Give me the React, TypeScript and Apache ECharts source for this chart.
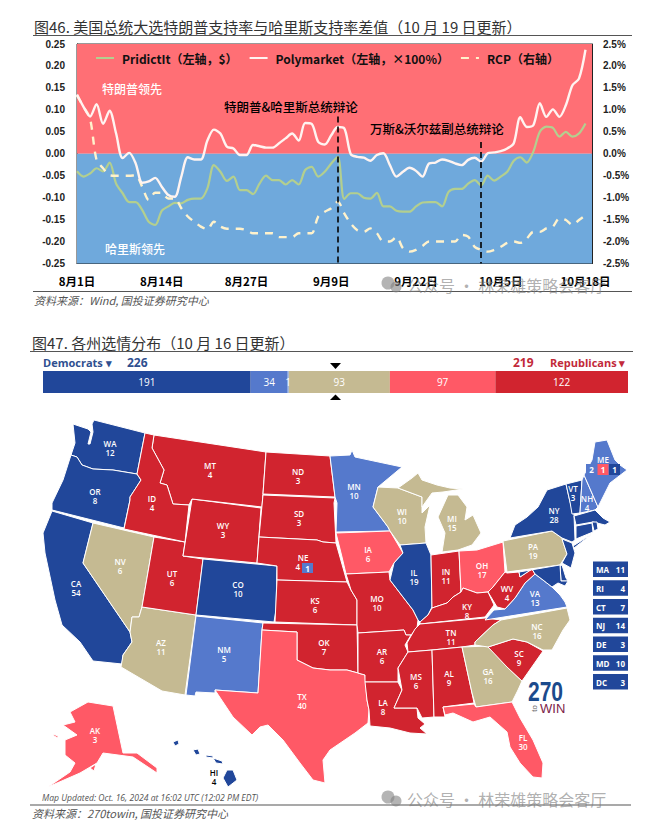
import React, { useEffect, useRef } from "react";
import * as echarts from "echarts";

const months: [number, number, number][] = [[8, 1, 31], [9, 1, 30], [10, 1, 19]];
const categories: string[] = [];
months.forEach(([m, a, b]) => { for (let d = a; d <= b; d++) categories.push(`${m}月${d}日`); });

const predictIt = [-0.04,-0.052,-0.045,-0.033,-0.04,-0.02,-0.068,-0.09,-0.11,-0.11,-0.128,-0.155,-0.162,-0.13,-0.12,-0.112,-0.113,-0.105,-0.102,-0.102,-0.079,-0.026,-0.041,-0.062,-0.052,-0.083,-0.083,-0.092,-0.068,-0.05,-0.06,-0.06,-0.07,-0.06,-0.07,-0.037,-0.03,-0.052,-0.041,-0.022,-0.007,-0.103,-0.09,-0.09,-0.1,-0.102,-0.089,-0.12,-0.12,-0.13,-0.132,-0.132,-0.12,-0.111,-0.11,-0.11,-0.12,-0.087,-0.08,-0.08,-0.068,-0.06,-0.072,-0.05,-0.061,-0.052,-0.041,-0.016,-0.008,-0.02,0.005,0.05,0.062,0.059,0.039,0.05,0.039,0.046,0.069,null];
const polymarket = [0.135,0.107,0.085,0.113,0.068,0.098,0.046,-0.01,0.002,-0.022,-0.066,-0.063,-0.055,-0.075,-0.094,-0.098,-0.052,-0.008,-0.013,-0.013,0.03,0.055,0.046,0.016,0.012,-0.003,-0.003,0.02,0.017,0.014,0.014,0.024,0.035,0.046,0.03,0.07,0.068,0.027,0.021,0.042,0.061,0.058,-0.001,-0.007,-0.009,-0.016,-0.003,0.001,-0.026,-0.052,-0.041,-0.032,-0.039,-0.052,-0.022,-0.02,-0.013,-0.016,-0.022,-0.026,-0.014,-0.009,-0.018,0.001,0.003,0.006,0.012,0.024,0.083,0.061,0.065,0.115,0.084,0.101,0.084,0.111,0.156,0.171,0.237,null];
const rcp = [1.33,1.07,0.8,-0.14,-0.33,-0.49,-0.5,-0.5,-0.5,-0.49,-0.75,-1.05,-0.89,-0.89,-1.02,-1.02,-1.24,-1.43,-1.55,-1.66,-1.72,-1.55,-1.66,-1.71,-1.71,-1.71,-1.74,-1.81,-1.81,-1.81,-1.81,-1.9,-1.9,-1.9,-1.81,-1.81,-1.81,-1.43,-1.32,-1.24,-1.09,-1.36,-1.59,-1.74,-1.78,-1.7,-1.81,-2,-2,-1.9,-2.15,-2.23,-2.19,-2.1,-2,-2,-2,-2,-2,-1.85,-1.89,-2.12,-2.19,-2.23,-2.19,-2.12,-2.03,-2,-2.03,-1.93,-1.78,-1.78,-1.7,-1.66,-1.47,-1.51,-1.62,-1.51,-1.4,null];

const seatLabels = ["Strong Dem", "Likely Dem", "Lean Dem", "Toss-up", "Leans Rep", "Strong Rep"];
const seatValues = [191, 34, 1, 93, 97, 122];
const seatColors = ["#21479A", "#5579CC", "#7FA5EA", "#C5BA92", "#FF5966", "#D1242F"];

const strongDem = ["WA","OR","CA","CO","IL","NY","VT","MA","RI","CT","NJ","DE","MD","DC","HI"];
const likelyDem = ["MN","NM","VA","NH","ME"];
const tossUp = ["NV","AZ","WI","MI","PA","GA","NC"];
const leanRep = ["IA","OH","TX","AK","FL"];
const strongRep = ["MT","ID","WY","UT","ND","SD","NE","KS","OK","MO","AR","LA","MS","AL","TN","KY","IN","WV","SC"];
const electoralVotes: Record<string, number> = { WA:12,OR:8,CA:54,NV:6,ID:4,MT:4,WY:3,UT:6,CO:10,AZ:11,NM:5,ND:3,SD:3,NE:4,KS:6,OK:7,TX:40,MN:10,IA:6,MO:10,AR:6,LA:8,WI:10,IL:19,MI:15,IN:11,OH:17,KY:8,TN:11,MS:6,AL:9,GA:16,FL:30,SC:9,NC:16,VA:13,WV:4,PA:19,NY:28,VT:3,NH:4,ME:4,AK:3,HI:4 };
const sideStates = ["MA","RI","CT","NJ","DE","MD","DC"];
const sideVotes = [11, 4, 7, 14, 3, 10, 3];

type Pt = [number, number];
const shapes: Record<string, { cp?: Pt; rings: Pt[][] }> = {
  WA: { cp: [110, 448], rings: [[[73,424],[88,429],[91,432],[88,444],[90,444],[93,432],[92,424],[94,420],[145,433],[137,474],[113,470],[93,469],[82,465],[77,457],[71,455],[75,443]]] },
  OR: { cp: [95, 496], rings: [[[71,455],[77,457],[82,465],[93,469],[113,470],[137,474],[141,480],[130,497],[130,500],[124,528],[52,510],[52,503],[63,480]]] },
  CA: { cp: [76, 588], rings: [[[52,511],[93,523],[83,563],[130,632],[132,642],[123,655],[122,664],[93,661],[80,642],[62,625],[55,600],[45,553],[43,533]]] },
  NV: { cp: [120, 566], rings: [[[93,523],[154,537],[142,607],[139,617],[132,617],[130,632],[83,563]]] },
  AZ: { cp: [161, 647], rings: [[[142,607],[196,615],[185,695],[162,691],[121,667],[123,655],[132,642],[130,632],[132,617],[139,617]]] },
  UT: { cp: [172, 578], rings: [[[154,537],[185,542],[183,556],[203,559],[196,615],[142,607]]] },
  CO: { cp: [238, 589], rings: [[[203,559],[277,566],[276,610],[274,622],[196,615]]] },
  NM: { cp: [224, 654], rings: [[[196,616],[263,623],[262,630],[258,693],[215,690],[215,693],[196,692],[195,696],[186,695]]] },
  WY: { cp: [223, 530], rings: [[[192,499],[261,508],[257,563],[183,556]]] },
  MT: { cp: [210, 470], rings: [[[154,435],[266,452],[262,507],[192,499],[189,505],[173,504],[167,485],[160,483],[164,470],[152,448]]] },
  ID: { cp: [152, 503], rings: [[[145,433],[154,435],[152,448],[164,470],[160,483],[167,485],[173,504],[189,505],[185,542],[124,529],[130,500],[130,497],[141,480],[137,474]]] },
  ND: { cp: [298, 476], rings: [[[266,452],[330,456],[335,497],[263,494]]] },
  SD: { cp: [299, 518], rings: [[[263,495],[335,498],[334,503],[336,543],[323,542],[317,540],[259,537]]] },
  NE: { cp: [303, 562], rings: [[[259,537],[317,540],[323,542],[336,543],[347,582],[277,580],[277,566],[257,563]]] },
  KS: { cp: [315, 605], rings: [[[277,580],[347,582],[351,590],[357,600],[357,625],[275,622]]] },
  OK: { cp: [324, 647], rings: [[[263,623],[357,625],[358,673],[347,670],[330,670],[313,668],[297,660],[297,632],[262,630]]] },
  TX: { cp: [302, 701], rings: [[[262,630],[297,632],[297,660],[313,668],[330,670],[347,670],[358,673],[365,675],[367,700],[369,710],[368,723],[355,733],[330,750],[323,760],[325,783],[313,780],[300,763],[283,740],[268,725],[260,727],[252,735],[233,717],[215,690],[258,693]]] },
  MN: { cp: [354, 491], rings: [[[330,456],[350,455],[352,450],[355,457],[402,467],[378,487],[373,507],[388,527],[390,531],[336,532],[337,503],[335,497]]] },
  IA: { cp: [368, 554], rings: [[[336,533],[390,531],[403,553],[394,563],[389,572],[346,574],[342,557]]] },
  MO: { cp: [377, 603], rings: [[[346,574],[389,572],[390,580],[403,597],[413,610],[418,620],[417,628],[411,635],[406,635],[404,630],[358,633],[357,625],[357,600],[351,590]]] },
  AR: { cp: [382, 656], rings: [[[358,633],[404,630],[406,635],[411,635],[405,645],[408,652],[398,668],[398,682],[365,682],[365,675],[358,673]]] },
  LA: { cp: [383, 707], rings: [[[365,682],[398,682],[402,690],[394,708],[417,708],[418,718],[425,724],[420,728],[427,734],[410,733],[390,728],[370,726],[369,710],[367,700]]] },
  WI: { cp: [402, 516], rings: [[[378,487],[398,488],[422,497],[422,513],[430,505],[425,527],[426,543],[400,545],[390,531],[388,527],[373,507]]] },
  IL: { cp: [414, 577], rings: [[[400,545],[426,543],[431,555],[432,607],[428,615],[420,622],[418,620],[413,610],[403,597],[390,580],[394,563],[403,553]]] },
  MI: { cp: [452, 523], rings: [[[398,488],[412,478],[418,473],[422,480],[437,485],[450,488],[463,489],[443,492],[432,493],[422,507],[422,497]],[[448,495],[458,495],[467,507],[465,520],[473,515],[481,533],[472,545],[458,550],[442,552],[445,533],[438,517]]] },
  IN: { cp: [446, 576], rings: [[[431,555],[459,551],[461,592],[453,597],[447,603],[432,608]]] },
  OH: { cp: [482, 570], rings: [[[459,551],[477,550],[503,542],[505,572],[493,587],[488,592],[477,593],[463,588],[461,592]]] },
  KY: { cp: [467, 611], rings: [[[453,597],[461,592],[463,588],[477,593],[488,592],[494,605],[485,617],[420,624],[420,622],[428,615],[432,608],[447,603]]] },
  TN: { cp: [451, 637], rings: [[[415,629],[420,624],[485,618],[501,620],[493,625],[475,642],[475,645],[462,647],[432,650],[408,652],[407,643]]] },
  MS: { cp: [416, 681], rings: [[[408,652],[432,650],[434,717],[422,718],[417,708],[394,708],[402,690],[398,668]]] },
  AL: { cp: [449, 678], rings: [[[432,650],[462,647],[472,693],[474,703],[443,707],[445,717],[438,717],[434,717]]] },
  GA: { cp: [488, 676], rings: [[[462,647],[488,646],[507,667],[522,681],[518,690],[512,702],[476,707],[472,693]]] },
  FL: { cp: [523, 742], rings: [[[443,707],[474,704],[476,707],[512,702],[520,718],[533,740],[543,763],[542,778],[533,777],[520,763],[510,747],[507,732],[490,717],[473,722],[453,713],[445,715]]] },
  SC: { cp: [519, 658], rings: [[[488,647],[513,639],[527,642],[543,651],[522,681],[507,667]]] },
  NC: { cp: [537, 631], rings: [[[501,620],[567,608],[570,620],[563,630],[552,650],[543,650],[527,642],[513,639],[488,647],[475,645],[475,642],[493,625]]] },
  VA: { cp: [535, 598], rings: [[[535,574],[543,580],[552,587],[560,595],[565,602],[567,607],[485,620],[494,610],[505,609],[515,598],[525,583]]] },
  WV: { cp: [507, 593], rings: [[[505,572],[507,573],[519,572],[520,577],[532,569],[535,574],[525,583],[515,598],[505,609],[497,607],[488,592],[493,587]]] },
  PA: { cp: [533, 551], rings: [[[503,541],[552,531],[562,538],[563,542],[567,554],[560,565],[507,572]]] },
  NY: { cp: [554, 515], rings: [[[510,538],[515,525],[527,517],[538,507],[547,490],[566,484],[570,502],[574,515],[575,540],[572,542],[562,538],[552,531]],[[573,546],[592,534],[574,548]]] },
  VT: { cp: [573, 493], rings: [[[566,484],[582,480],[580,513],[572,514],[570,502]]] },
  NH: { cp: [587, 503], rings: [[[582,480],[584,475],[598,507],[595,510],[580,513]]] },
  ME: { cp: [603, 459], rings: [[[584,475],[592,460],[595,442],[607,440],[615,460],[620,465],[627,470],[610,483],[598,507]]] },
  MA: { rings: [[[574,516],[595,510],[603,518],[610,522],[605,525],[593,522],[576,525]]] },
  CT: { rings: [[[576,526],[592,523],[593,532],[576,539]]] },
  RI: { rings: [[[592,522],[597,522],[598,529],[594,531]]] },
  NJ: { rings: [[[562,539],[572,543],[575,553],[571,568],[562,563],[567,554]]] },
  DE: { rings: [[[560,566],[562,565],[566,578],[568,581],[561,581]]] },
  MD: { rings: [[[519,572],[560,565],[561,581],[568,581],[565,586],[558,583],[552,587],[543,580],[535,574],[532,569],[520,577]]] },
  DC: { rings: [[[546,579],[549,578],[550,582],[547,583]]] },
  AK: { cp: [95, 735], rings: [[[88,702],[113,706],[123,753],[137,753],[157,768],[157,773],[133,757],[103,753],[97,763],[80,773],[48,787],[70,772],[75,763],[65,755],[65,740],[77,735],[63,725],[75,722],[70,712]],[[53,734],[58,736],[58,738],[54,736]],[[90,768],[96,764],[94,771]]] },
  HI: { cp: [214, 777], rings: [[[227,770],[233,770],[237,780],[228,787],[223,778]],[[213,758],[222,761],[223,764],[216,763]],[[206,755],[213,756],[213,758],[206,757]],[[193,750],[198,749],[200,754],[196,755]],[[173,742],[178,740],[179,744],[175,746]]] },
};

const allPts = Object.values(shapes).flatMap((s) => s.rings.flat());
const minX = Math.min(...allPts.map((p) => p[0]));
const maxX = Math.max(...allPts.map((p) => p[0]));
const minY = Math.min(...allPts.map((p) => p[1]));
const maxY = Math.max(...allPts.map((p) => p[1]));

const geoJson: any = {
  type: "FeatureCollection",
  features: Object.entries(shapes).map(([name, s]) => ({
    type: "Feature",
    properties: s.cp ? { name, cp: s.cp } : { name },
    geometry: { type: "MultiPolygon", coordinates: s.rings.map((r) => [[...r, r[0]]]) },
  })),
};

const groups: [string[], string][] = [
  [strongDem, seatColors[0]],
  [likelyDem, seatColors[1]],
  [tossUp, seatColors[3]],
  [leanRep, seatColors[4]],
  [strongRep, seatColors[5]],
];
const mapData = groups.flatMap(([names, color]) =>
  names.map((name) => {
    const v = electoralVotes[name];
    const show = v !== undefined && !sideStates.includes(name);
    let formatter = `${name}\n${v}`;
    if (name === "ME") formatter = "ME";
    if (name === "NE") formatter = "NE\n4     ";
    return {
      name,
      value: v ?? 0,
      itemStyle: name === "DC" ? { areaColor: color, borderWidth: 0 } : { areaColor: color },
      label: { show, formatter, color: name === "HI" ? "#000" : "#fff" },
    };
  })
);

const SANS = '"Liberation Sans","Noto Sans CJK SC",sans-serif';
const CJK = '"Noto Sans CJK SC",sans-serif';
const OPEN = '"Open Sans","Noto Sans",sans-serif';

const txt = (x: number, y: number, text: string, style: any) => ({
  type: "text", x, y, silent: true, z: 20,
  style: { text, x: 0, y: 0, textVerticalAlign: "middle", fontFamily: CJK, ...style },
});
const rect = (x: number, y: number, width: number, height: number, fill: string) => ({
  type: "rect", silent: true, z: 20, shape: { x, y, width, height }, style: { fill },
});
const rule = (x1: number, x2: number, y: number) => ({
  type: "line", silent: true, z: 20, shape: { x1, y1: y, x2, y2: y }, style: { stroke: "#555", lineWidth: 1.2 },
});
const watermark = (y: number) => [
  { type: "circle", silent: true, z: 21, shape: { cx: 388, cy: y - 2, r: 6.5 }, style: { fill: "rgba(130,130,130,0.6)" } },
  { type: "circle", silent: true, z: 21, shape: { cx: 396, cy: y + 2, r: 5.5 }, style: { fill: "rgba(130,130,130,0.6)" } },
  txt(407, y, "公众号 · 林荣雄策略会客厅", { fontSize: 16, fill: "rgba(125,125,125,0.62)" }),
];

const sideBoxes = sideStates.flatMap((name, i) => {
  const y = 561.5 + i * 18.75;
  return [
    rect(593, y, 35, 15.5, seatColors[0]),
    txt(596, y + 8, name, { fontSize: 8, fontWeight: 700, fill: "#fff", fontFamily: OPEN }),
    txt(625, y + 8, String(sideVotes[i]), { fontSize: 8, fontWeight: 700, fill: "#fff", fontFamily: OPEN, textAlign: "right" }),
  ];
});

export default function App() {
  const ref = useRef<HTMLDivElement>(null);
  useEffect(() => {
    document.body.style.margin = "0";
    echarts.registerMap("usa270", geoJson);
    const chart = echarts.init(ref.current!, undefined, { renderer: "svg" });
    const NAMES = ["PridictIt（左轴，$）", "Polymarket（左轴，×100%）", "RCP（右轴）"];
    const common = { type: "line", symbol: "none", smooth: 0.3, connectNulls: false };
    chart.setOption({
      animation: false,
      backgroundColor: "#fff",
      legend: {
        left: 90, top: 47, itemWidth: 18, itemHeight: 10, itemGap: 11,
        data: NAMES,
        itemStyle: { opacity: 0 },
        textStyle: { fontFamily: CJK, fontSize: 12, fontWeight: 700, color: "#111", padding: [0, 0, 0, 3] },
      },
      grid: [
        { left: 77, right: 61, top: 44, height: 219.5, show: true, borderColor: "#333", borderWidth: 1 },
        { left: 43, right: 25, top: 371, height: 22 },
      ],
      xAxis: [
        {
          type: "category", gridIndex: 0, data: categories, boundaryGap: false,
          axisLine: { onZero: false, lineStyle: { color: "#222" } },
          axisTick: { interval: 12, inside: true, length: 3, lineStyle: { color: "#222" } },
          axisLabel: { interval: 12, margin: 12, fontFamily: CJK, fontSize: 11.5, fontWeight: 700, color: "#000" },
        },
        { type: "value", gridIndex: 1, min: 0, max: 538, show: false },
      ],
      yAxis: [
        {
          type: "value", gridIndex: 0, min: -0.25, max: 0.25, interval: 0.05,
          axisLine: { show: true, lineStyle: { color: "#222" } },
          axisTick: { show: true, inside: true, length: 3, lineStyle: { color: "#222" } },
          splitLine: { show: false },
          axisLabel: { fontFamily: SANS, fontSize: 10, fontWeight: 700, color: "#222", margin: 12, formatter: (v: number) => v.toFixed(2) },
        },
        {
          type: "value", gridIndex: 0, position: "right", min: -2.5, max: 2.5, interval: 0.5,
          axisLine: { show: true, lineStyle: { color: "#222" } },
          axisTick: { show: true, inside: true, length: 3, lineStyle: { color: "#222" } },
          splitLine: { show: false },
          axisLabel: { fontFamily: SANS, fontSize: 10, fontWeight: 700, color: "#222", margin: 11, formatter: (v: number) => `${v.toFixed(1)}%` },
        },
        { type: "category", gridIndex: 1, data: ["seats"], show: false },
      ],
      series: [
        {
          type: "line", name: "bg", xAxisIndex: 0, yAxisIndex: 0, z: 0, symbol: "none", silent: true,
          data: categories.map(() => null),
          markArea: {
            silent: true,
            data: [
              [{ yAxis: 0.25, itemStyle: { color: "#FF6F75" } }, { yAxis: 0 }],
              [{ yAxis: 0, itemStyle: { color: "#6FA9DC" } }, { yAxis: -0.25 }],
            ],
          },
        },
        { ...common, name: NAMES[0], xAxisIndex: 0, yAxisIndex: 0, z: 3, data: predictIt, color: "#B3CF8F", lineStyle: { color: "#B3CF8F", width: 2.2 } },
        { ...common, name: NAMES[1], xAxisIndex: 0, yAxisIndex: 0, z: 4, data: polymarket, color: "#FFF4F1", lineStyle: { color: "#FFF4F1", width: 2.4 } },
        { ...common, name: NAMES[2], xAxisIndex: 0, yAxisIndex: 1, z: 3, data: rcp, color: "#FFF2CC", lineStyle: { color: "#FFF2CC", width: 2.4, type: [8, 7] } },
        {
          type: "line", name: "debates", xAxisIndex: 0, yAxisIndex: 0, z: 6, symbol: "none", silent: true,
          data: categories.map(() => null),
          markLine: {
            silent: true, symbol: "none", label: { show: false },
            lineStyle: { color: "#000", width: 1.6, type: [6, 4] },
            data: [
              [{ xAxis: "9月10日", yAxis: 0.085 }, { xAxis: "9月10日", yAxis: -0.25 }],
              [{ xAxis: "10月2日", yAxis: 0.027 }, { xAxis: "10月2日", yAxis: -0.25 }],
            ],
          },
        },
        ...seatValues.map((v, i) => ({
          type: "bar", name: seatLabels[i], xAxisIndex: 1, yAxisIndex: 2, stack: "seats", barWidth: 22,
          data: [v], itemStyle: { color: seatColors[i] }, silent: true,
          label: { show: true, position: "inside", color: "#fff", fontSize: 10, fontFamily: OPEN, formatter: "{c}" },
        })),
        {
          type: "map", map: "usa270", silent: true, roam: false, selectedMode: false, showLegendSymbol: false,
          projection: { project: (p: number[]) => p, unproject: (p: number[]) => p },
          layoutCenter: [(minX + maxX) / 2, (minY + maxY) / 2],
          layoutSize: Math.max(maxX - minX, maxY - minY),
          itemStyle: { borderColor: "#fff", borderWidth: 1, areaColor: "#ccc" },
          emphasis: { disabled: true },
          label: { show: true, fontSize: 8, lineHeight: 9, fontWeight: 600, fontFamily: OPEN, color: "#fff" },
          data: mapData,
        },
      ],
      graphic: [
        txt(34, 26, "图46. 美国总统大选特朗普支持率与哈里斯支持率差值（10 月 19 日更新）", { fontSize: 15, fill: "#333" }),
        rule(33, 632, 35.5),
        txt(102, 88, "特朗普领先", { fontSize: 12, fill: "#fff", fontWeight: 500 }),
        txt(105, 248, "哈里斯领先", { fontSize: 12, fill: "#fff", fontWeight: 500 }),
        txt(224, 106, "特朗普&哈里斯总统辩论", { fontSize: 12.5, fill: "#000", fontWeight: 500 }),
        txt(370, 128, "万斯&沃尔兹副总统辩论", { fontSize: 12.5, fill: "#000", fontWeight: 500 }),
        rule(33, 632, 291.5),
        txt(34, 299.5, "资料来源：Wind, 国投证券研究中心", { fontSize: 11, fill: "#555", fontStyle: "italic" }),
        ...watermark(285),

        txt(32, 342, "图47. 各州选情分布（10 月 16 日更新）", { fontSize: 15, fill: "#333" }),
        rule(30, 633, 351.5),
        txt(43, 362, "Democrats ▾", { fontSize: 11, fontWeight: 700, fill: "#2F4F8F", fontFamily: OPEN }),
        txt(127, 362, "226", { fontSize: 12, fontWeight: 700, fill: "#2F4F8F", fontFamily: OPEN }),
        txt(513, 362, "219", { fontSize: 12, fontWeight: 700, fill: "#C22A3A", fontFamily: OPEN }),
        txt(550, 362, "Republicans ▾", { fontSize: 11, fontWeight: 700, fill: "#C22A3A", fontFamily: OPEN }),
        { type: "polygon", silent: true, z: 20, shape: { points: [[330, 363], [341, 363], [335.5, 369]] }, style: { fill: "#000" } },
        { type: "polygon", silent: true, z: 20, shape: { points: [[330, 400], [341, 400], [335.5, 394.5]] }, style: { fill: "#000" } },

        rect(586, 464, 11, 11, seatColors[1]),
        txt(591.5, 469.8, "2", { fontSize: 8, fontWeight: 700, fill: "#fff", textAlign: "center", fontFamily: OPEN }),
        rect(597.5, 464, 11, 11, seatColors[4]),
        txt(603, 469.8, "1", { fontSize: 8, fontWeight: 700, fill: "#fff", textAlign: "center", fontFamily: OPEN }),
        rect(609, 464, 11, 11, seatColors[0]),
        txt(614.5, 469.8, "1", { fontSize: 8, fontWeight: 700, fill: "#fff", textAlign: "center", fontFamily: OPEN }),
        rect(302, 563, 11, 10, seatColors[1]),
        txt(307.5, 568.3, "1", { fontSize: 8, fontWeight: 700, fill: "#fff", textAlign: "center", fontFamily: OPEN }),

        ...sideBoxes,

        { ...txt(545.5, 692, "270", { fontSize: 27, fontWeight: 700, fill: "#1B4A8C", textAlign: "center", fontFamily: SANS }), scaleX: 0.78 },
        txt(540, 708.5, "WIN", { fontSize: 13, fontWeight: 400, fill: "#7D2248", fontFamily: SANS }),
        { ...txt(534, 708.5, "to", { fontSize: 8, fill: "#666", fontFamily: SANS, textAlign: "center" }), rotation: Math.PI / 2, originX: 0, originY: 0 },

        txt(42, 797.5, "Map Updated: Oct. 16, 2024 at 16:02 UTC (12:02 PM EDT)", { fontSize: 8.6, fill: "#555", fontStyle: "italic", fontFamily: OPEN }),
        rule(30, 631, 805),
        txt(32, 813, "资料来源：270towin, 国投证券研究中心", { fontSize: 11, fill: "#555", fontStyle: "italic" }),
        ...watermark(799),
      ],
    });
    return () => chart.dispose();
  }, []);
  return <div ref={ref} style={{ width: 653, height: 823 }} />;
}
